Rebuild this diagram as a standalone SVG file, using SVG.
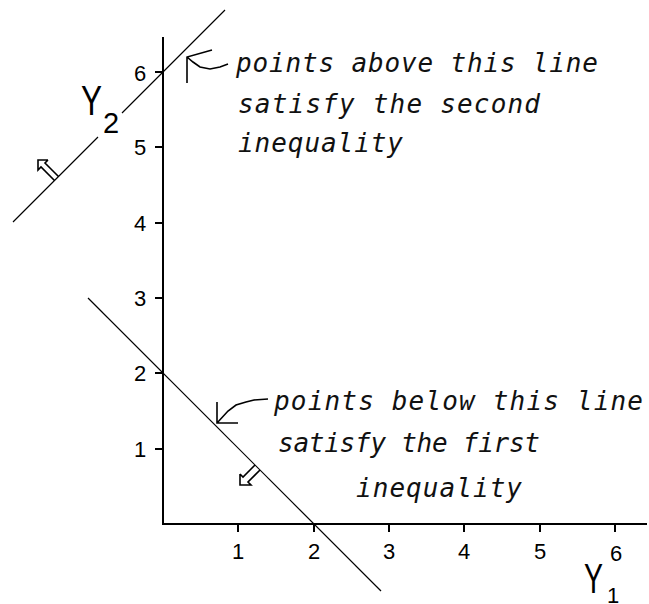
<svg xmlns="http://www.w3.org/2000/svg" width="649" height="604" viewBox="0 0 649 604">
<style>
.axis{stroke:#000;stroke-width:2;fill:none}
.ln{stroke:#000;stroke-width:1.2;fill:none}
.arr{stroke:#000;stroke-width:1.6;fill:none;stroke-linejoin:miter}
.num{font-family:"Liberation Sans",Arial,sans-serif;font-size:22px;fill:#000;text-anchor:middle}
.lab{font-family:"Liberation Sans",Arial,sans-serif;fill:#000}
.note{font-family:"DejaVu Sans Mono","Liberation Mono",monospace;font-style:italic;font-size:26px;fill:#111}
</style>
<rect width="649" height="604" fill="#fff"/>
<g id="axes">
  <path class="axis" d="M163 37 V524 H647"/>
  <path class="axis" d="M155 72 H163 M155 147 H163 M155 223 H163 M155 298 H163 M155 373 H163 M155 449 H163"/>
  <path class="axis" d="M238 524 V532 M314 524 V532 M389 524 V532 M464 524 V532 M540 524 V532 M615 524 V532"/>
  <text class="num" x="140" y="81">6</text>
  <text class="num" x="140" y="155">5</text>
  <text class="num" x="140" y="231">4</text>
  <text class="num" x="140" y="306">3</text>
  <text class="num" x="140" y="381">2</text>
  <text class="num" x="140" y="457">1</text>
  <text class="num" x="238" y="559">1</text>
  <text class="num" x="314" y="559">2</text>
  <text class="num" x="389" y="559">3</text>
  <text class="num" x="464" y="559">4</text>
  <text class="num" x="540" y="559">5</text>
  <text class="num" x="616" y="561">6</text>
</g>
<g id="y2-label">
  <text class="lab" x="81" y="115" font-size="42" textLength="21" lengthAdjust="spacingAndGlyphs">Y</text>
  <text class="lab" x="103" y="133" font-size="29">2</text>
</g>
<g id="y1-label">
  <text class="lab" x="584" y="593" font-size="42" textLength="19" lengthAdjust="spacingAndGlyphs">Y</text>
  <text class="lab" x="607" y="603" font-size="22">1</text>
</g>
<g id="connectors">
  <path class="ln" d="M13 222 L98 137 M122 113 L225 10"/>
  <path class="ln" d="M88 298 L381 591"/>
  <path class="arr" d="M48 160 L38 160 L38 170 L41 167 L54.5 180.5 M48 160 L45 163 L58.5 176.5"/>
  <path class="arr" d="M240 474 L240 485 L251 485 L248 482 L260 470 M240 474 L243 477 L255 465"/>
  <path class="arr" d="M187 83 L187 57 L212 50 M187 57 L193 62 L200 67 L210 69 L220 67 L228 64"/>
  <path class="arr" d="M217 402 L217 423 L238 423 M217 423 L228 411 L236 405 L246 402 L254 400 L268 399"/>
</g>
<g id="note-above">
  <text class="note" x="236" y="72" textLength="362" lengthAdjust="spacing">points above this line</text>
  <text class="note" x="238" y="113" textLength="302" lengthAdjust="spacing">satisfy the second</text>
  <text class="note" x="238" y="152" textLength="165" lengthAdjust="spacing">inequality</text>
</g>
<g id="note-below">
  <text class="note" x="274" y="410" textLength="369" lengthAdjust="spacing">points below this line</text>
  <text class="note" x="278" y="452" textLength="262" lengthAdjust="spacing">satisfy the first</text>
  <text class="note" x="356" y="497" textLength="166" lengthAdjust="spacing">inequality</text>
</g>
</svg>
